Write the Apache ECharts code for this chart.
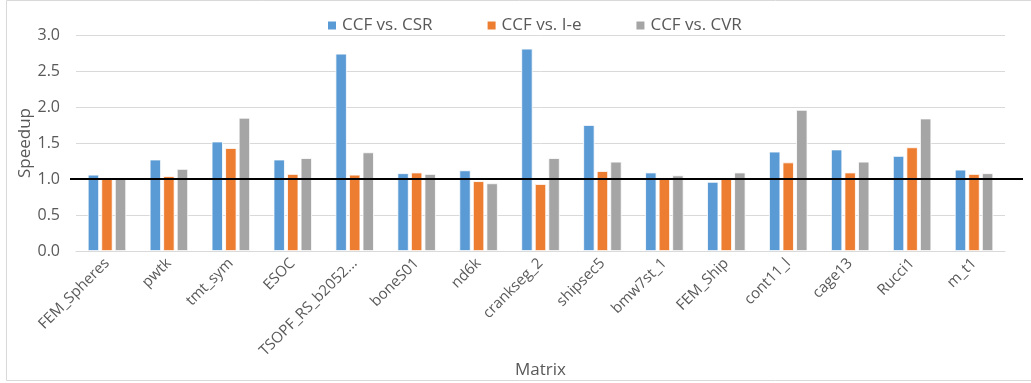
<!DOCTYPE html>
<html>
<head>
<meta charset="utf-8">
<script src="https://cdn.jsdelivr.net/npm/echarts@6/dist/echarts.min.js"></script>
<style>
  html, body { margin: 0; padding: 0; background: #fff; }
  #chart { width: 1031px; height: 383px; }
</style>
</head>
<body>
<div id="chart"></div>
<script>
// Sparse matrices
const categories = ['FEM_Spheres', 'pwtk', 'tmt_sym', 'ESOC', 'TSOPF_RS_b2052...', 'boneS01', 'nd6k',
  'crankseg_2', 'shipsec5', 'bmw7st_1', 'FEM_Ship', 'cont11_l', 'cage13', 'Rucci1', 'm_t1'];

// Speedup of CCF against each baseline format
const vsCSR = [1.06, 1.27, 1.52, 1.27, 2.74, 1.08, 1.12, 2.81, 1.75, 1.09, 0.96, 1.38, 1.41, 1.32, 1.13];
const vsIe  = [1.00, 1.04, 1.43, 1.07, 1.06, 1.09, 0.97, 0.93, 1.11, 1.02, 1.01, 1.23, 1.09, 1.44, 1.07];
const vsCVR = [1.00, 1.14, 1.85, 1.29, 1.37, 1.07, 0.94, 1.29, 1.24, 1.05, 1.09, 1.96, 1.24, 1.84, 1.08];

const seriesNames = ['CCF vs. CSR', 'CCF vs. I-e', 'CCF vs. CVR'];
const yTicks = { min: 0, max: 3, interval: 0.5 };
const baseline = 1.0;

const FONT = '"Open Sans", "Liberation Sans", sans-serif';
const colors = ['#5b9bd5', '#ed7d31', '#a5a5a5'];

const chart = echarts.init(document.getElementById('chart'), null, { renderer: 'canvas' });

function bar(name, data) {
  return {
    name, type: 'bar', data,
    barGap: '20%', barCategoryGap: '38%',
    itemStyle: { borderColor: '#ffffff', borderWidth: 0.8 },
    emphasis: { disabled: true }
  };
}

chart.setOption({
  animation: false,
  color: colors,
  textStyle: { fontFamily: FONT },
  legend: {
    top: 17, left: 326, padding: 0,
    itemWidth: 10, itemHeight: 10, itemGap: 53,
    icon: 'rect',
    textStyle: { fontFamily: FONT, fontSize: 17, color: '#595959' },
    data: seriesNames
  },
  grid: { left: 76, right: 26, top: 35, bottom: 132, containLabel: false, outerBoundsMode: 'none' },
  xAxis: {
    type: 'category', data: categories,
    name: 'Matrix', nameLocation: 'middle', nameGap: 111, nameMoveOverlap: false,
    nameTextStyle: { fontFamily: FONT, fontSize: 17, color: '#595959' },
    axisLine: { show: true, lineStyle: { color: '#d9d9d9', width: 1 } },
    axisTick: { show: false },
    axisLabel: { rotate: 45, interval: 0, margin: 10, fontFamily: FONT, fontSize: 15, color: '#595959' }
  },
  yAxis: {
    type: 'value', min: yTicks.min, max: yTicks.max, interval: yTicks.interval,
    name: 'Speedup', nameLocation: 'middle', nameGap: 42, nameMoveOverlap: false,
    nameTextStyle: { fontFamily: FONT, fontSize: 17, color: '#595959' },
    axisLine: { show: false }, axisTick: { show: false },
    axisLabel: { margin: 16, fontFamily: FONT, fontSize: 16, color: '#595959',
      formatter: v => v.toFixed(1) },
    splitLine: { lineStyle: { color: '#d9d9d9', width: 1 } }
  },
  series: [bar(seriesNames[0], vsCSR), bar(seriesNames[1], vsIe), bar(seriesNames[2], vsCVR)]
});

// Baseline at speedup 1.0, spanning a little beyond the plot area, plus the chart frame
const yBase = chart.convertToPixel({ yAxisIndex: 0 }, baseline);
chart.setOption({
  graphic: [
    { type: 'rect', shape: { x: 6.5, y: 0.5, width: 1040, height: 380 },
      style: { fill: 'none', stroke: '#d9d9d9', lineWidth: 1 }, silent: true, z: 0 },
    { type: 'line', shape: { x1: 70, y1: yBase, x2: 1023, y2: yBase },
      style: { stroke: '#000000', lineWidth: 2 }, silent: true, z: 100 }
  ]
});
</script>
</body>
</html>
